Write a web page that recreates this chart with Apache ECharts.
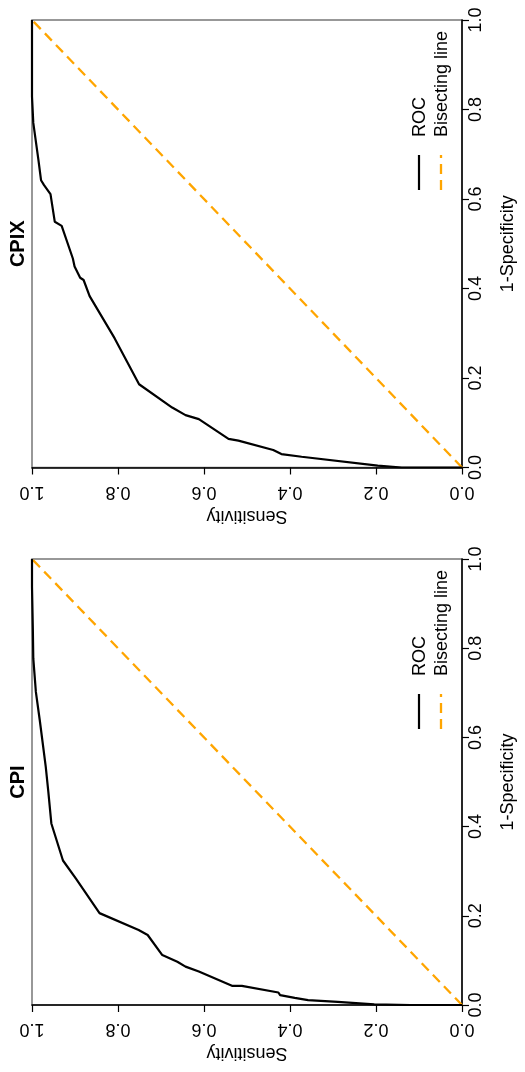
<!DOCTYPE html>
<html>
<head>
<meta charset="utf-8">
<script src="https://cdn.jsdelivr.net/npm/echarts@6/dist/echarts.min.js"></script>
<style>
html,body{margin:0;padding:0;background:#fff;}
#c{width:525px;height:1072px;}
</style>
</head>
<body>
<div id="c"></div>
<script>
// ---- data ----
const panelTitles = ['CPIX', 'CPI'];
const tickValues = [0, 0.2, 0.4, 0.6, 0.8, 1.0];
const cpixFpr  = [0, 0, 0.004, 0.024, 0.030, 0.039, 0.060, 0.064, 0.108, 0.117, 0.134, 0.186, 0.289, 0.383, 0.419, 0.424, 0.449, 0.467, 0.540, 0.549, 0.611, 0.631, 0.642, 0.687, 0.770, 0.829, 1];
const cpixSens = [0, 0.14, 0.196, 0.373, 0.420, 0.439, 0.520, 0.543, 0.612, 0.643, 0.674, 0.751, 0.808, 0.866, 0.880, 0.888, 0.901, 0.905, 0.931, 0.947, 0.957, 0.972, 0.979, 0.985, 0.997, 1.0, 1.0];
const cpiFpr   = [0, 0, 0.0016, 0.007, 0.011, 0.016, 0.022, 0.028, 0.043, 0.043, 0.075, 0.086, 0.097, 0.112, 0.157, 0.168, 0.206, 0.282, 0.324, 0.407, 0.478, 0.534, 0.639, 0.702, 0.777, 0.841, 0.938, 1];
const cpiSens  = [0, 0.12, 0.204, 0.289, 0.358, 0.389, 0.423, 0.427, 0.512, 0.535, 0.612, 0.643, 0.662, 0.697, 0.731, 0.752, 0.843, 0.897, 0.928, 0.955, 0.962, 0.968, 0.982, 0.991, 0.997, 0.998, 1, 1];
const bisectVals = [0, 1];
const legendNames = ['ROC', 'Bisecting line'];

// ---- layout / style ----
const FONT = 'Liberation Sans, Arial, Helvetica, sans-serif';
const ORANGE = '#FFA500';
const grids = [
  {left: 32, top: 20, width: 433, height: 447.5},
  {left: 32, top: 559, width: 433, height: 446}
];

const chart = echarts.init(document.getElementById('c'), null, {renderer: 'canvas'});

function xAxisFor(i) {
  return {
    gridIndex: i, type: 'value', min: 0, max: 1, interval: 0.2, inverse: true,
    position: 'bottom',
    axisLine: {show: true, onZero: false, lineStyle: {color: '#000', width: 1.5}},
    axisTick: {show: true, length: 7, lineStyle: {color: '#000', width: 1.2}},
    axisLabel: {rotate: 180, fontSize: 18, fontFamily: FONT, color: '#000', margin: 15,
      formatter: v => v.toFixed(1)},
    splitLine: {show: false},
    name: 'Sensitivity', nameLocation: 'middle', nameRotate: 180, nameGap: 39,
    nameTextStyle: {fontSize: 18, fontFamily: FONT, color: '#000'}
  };
}
function yAxisFor(i) {
  return {
    gridIndex: i, type: 'value', min: 0, max: 1, interval: 0.2,
    position: 'right',
    axisLine: {show: true, onZero: false, lineStyle: {color: '#000', width: 1.5}},
    axisTick: {show: true, length: 7, lineStyle: {color: '#000', width: 1.2}},
    axisLabel: {rotate: 90, fontSize: 18, fontFamily: FONT, color: '#000', margin: 5,
      formatter: v => v.toFixed(1)},
    splitLine: {show: false},
    name: '1-Specificity', nameLocation: 'middle', nameRotate: 90, nameGap: 37,
    nameTextStyle: {fontSize: 18, fontFamily: FONT, color: '#000'}
  };
}

const rocSets = [[cpixSens, cpixFpr], [cpiSens, cpiFpr]];
const series = [];
rocSets.forEach((set, i) => {
  series.push({
    type: 'line', name: legendNames[1], xAxisIndex: i, yAxisIndex: i,
    data: bisectVals.map(v => [v, v]), symbol: 'none', silent: true,
    lineStyle: {color: ORANGE, width: 2.3, type: [10, 6]}, z: 2
  });
  series.push({
    type: 'line', name: legendNames[0], xAxisIndex: i, yAxisIndex: i,
    data: set[0].map((s, k) => [s, set[1][k]]), symbol: 'none', silent: true,
    lineStyle: {color: '#000', width: 2.2}, z: 3
  });
});

const graphic = [];
grids.forEach((g, i) => {
  const dy = g.top - grids[0].top;
  graphic.push({
    type: 'text', x: 18.5, y: g.top + g.height / 2, rotation: Math.PI / 2,
    style: {text: panelTitles[i], font: 'bold 20px ' + FONT, fill: '#000',
      textAlign: 'center', textVerticalAlign: 'middle'}
  });
  graphic.push({
    type: 'line', shape: {x1: 419, y1: 190 + dy, x2: 419, y2: 155 + dy},
    style: {stroke: '#000', lineWidth: 2.2}
  });
  graphic.push({
    type: 'line', shape: {x1: 441, y1: 190 + dy, x2: 441, y2: 155 + dy},
    style: {stroke: ORANGE, lineWidth: 2.3, lineDash: [10, 6]}
  });
  graphic.push({
    type: 'text', x: 420, y: 137 + dy, rotation: Math.PI / 2,
    style: {text: legendNames[0], font: '18px ' + FONT, fill: '#000',
      textAlign: 'left', textVerticalAlign: 'middle'}
  });
  graphic.push({
    type: 'text', x: 442.5, y: 137 + dy, rotation: Math.PI / 2,
    style: {text: legendNames[1], font: '18px ' + FONT, fill: '#000',
      textAlign: 'left', textVerticalAlign: 'middle'}
  });
});

chart.setOption({
  animation: false,
  backgroundColor: '#fff',
  grid: grids.map(g => Object.assign({show: true, borderColor: '#777777', borderWidth: 1.5,
    backgroundColor: 'transparent'}, g)),
  xAxis: grids.map((g, i) => xAxisFor(i)),
  yAxis: grids.map((g, i) => yAxisFor(i)),
  series: series,
  graphic: graphic
});
</script>
</body>
</html>
